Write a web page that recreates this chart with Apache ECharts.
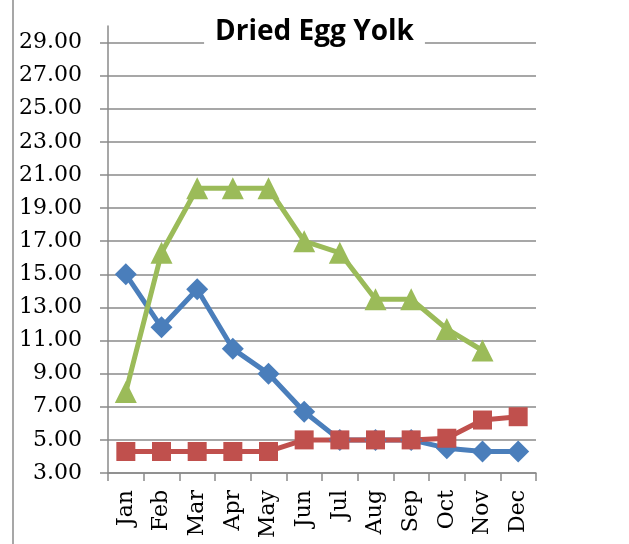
<!DOCTYPE html>
<html>
<head>
<meta charset="utf-8">
<script src="https://cdn.jsdelivr.net/npm/echarts@6/dist/echarts.min.js"></script>
<style>html,body{margin:0;padding:0;background:#fff;}#c{width:629px;height:544px;}</style>
</head>
<body>
<div id="c"></div>
<script>
const months = ['Jan','Feb','Mar','Apr','May','Jun','Jul','Aug','Sep','Oct','Nov','Dec'];
const blueSeries = [15.0, 11.8, 14.1, 10.5, 9.0, 6.7, 5.0, 5.0, 5.0, 4.5, 4.3, 4.3];
const redSeries = [4.3, 4.3, 4.3, 4.3, 4.3, 5.0, 5.0, 5.0, 5.0, 5.1, 6.2, 6.4];
const greenSeries = [7.9, 16.3, 20.2, 20.2, 20.2, 17.0, 16.3, 13.5, 13.5, 11.7, 10.4, null];
const yTicks = [3, 5, 7, 9, 11, 13, 15, 17, 19, 21, 23, 25, 27, 29];
const yMin = 3, yMax = 30;

const serif = 'DejaVu Serif';
const gridColors = yTicks.map(() => '#8a8a8a').concat(['rgba(0,0,0,0)']);

const chart = echarts.init(document.getElementById('c'), null, {renderer: 'canvas'});
chart.setOption({
  animation: false,
  backgroundColor: '#fff',
  title: {
    text: 'Dried Egg Yolk',
    left: 'center',
    top: 15,
    padding: [0, 11],
    backgroundColor: '#fff',
    textStyle: {fontFamily: 'Open Sans', fontWeight: 'bold', fontSize: 28, color: '#000', lineHeight: 34}
  },
  graphic: [{
    type: 'line', shape: {x1: 13, y1: 0, x2: 13, y2: 544},
    style: {stroke: '#8a8a8a', lineWidth: 1.5}, z: 0
  }],
  grid: {left: 108, right: 93, top: 26, bottom: 71},
  xAxis: {
    type: 'category',
    data: months,
    boundaryGap: true,
    axisLine: {lineStyle: {color: '#8a8a8a', width: 1.5}},
    axisTick: {show: true, length: 8, alignWithLabel: false, lineStyle: {color: '#8a8a8a', width: 1.5}},
    axisLabel: {rotate: 90, margin: 17, fontFamily: serif, fontSize: 22, color: '#000', interval: 0}
  },
  yAxis: {
    type: 'value',
    min: yMin, max: yMax, interval: 2,
    axisLine: {show: true, lineStyle: {color: '#8a8a8a', width: 1.5}},
    axisTick: {show: true, length: 8, customValues: yTicks, lineStyle: {color: '#8a8a8a', width: 1.5}},
    axisLabel: {customValues: yTicks, margin: 26, fontFamily: serif, fontSize: 22, color: '#000',
      formatter: v => v.toFixed(2)},
    splitLine: {show: true, lineStyle: {color: gridColors, width: 1.5}}
  },
  series: [
    {type: 'line', data: blueSeries, symbol: 'diamond', symbolSize: 22,
      lineStyle: {color: '#4A7EBB', width: 5}, itemStyle: {color: '#4A7EBB'}},
    {type: 'line', data: redSeries, symbol: 'rect', symbolSize: 19,
      lineStyle: {color: '#C0504D', width: 5}, itemStyle: {color: '#C0504D'}},
    {type: 'line', data: greenSeries, symbol: 'triangle', symbolSize: 22,
      lineStyle: {color: '#9BBB59', width: 5}, itemStyle: {color: '#9BBB59'}}
  ]
});
</script>
</body>
</html>
